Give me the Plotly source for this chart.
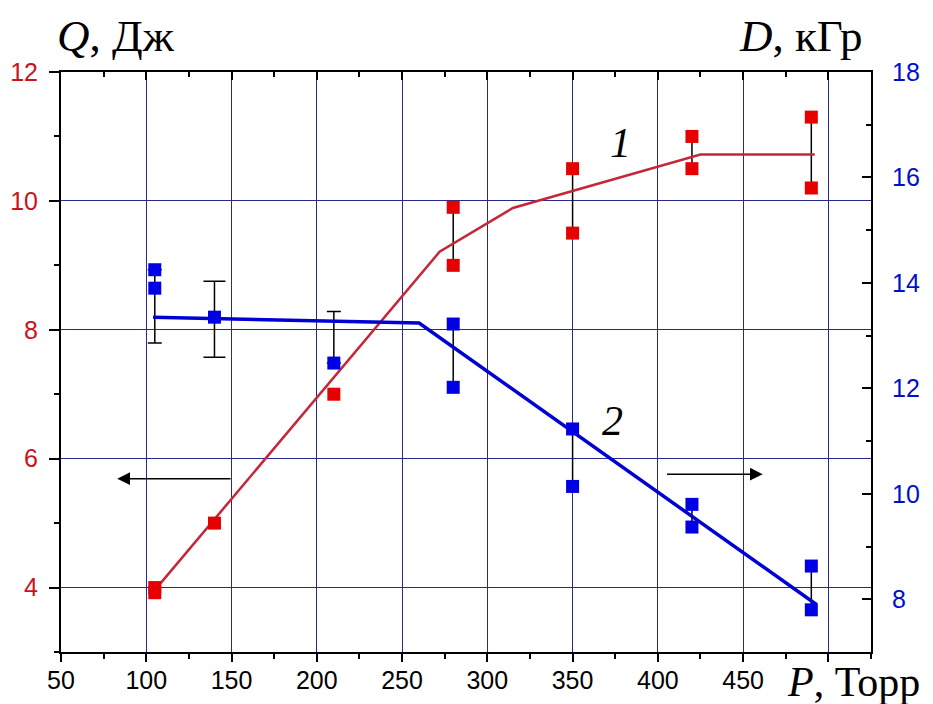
import plotly.graph_objects as go

# ---- data ----
# Q (J), left axis, red squares
q_x = [105, 105, 140, 210, 280, 280, 350, 350, 420, 420, 490, 490]
q_y = [4.0, 3.92, 5.0, 7.0, 9.9, 9.0, 10.5, 9.5, 11.0, 10.5, 11.3, 10.2]
# D (kGy), right axis, blue squares
d_x = [105, 105, 140, 210, 280, 280, 350, 350, 420, 420, 490, 490]
d_y = [14.25, 13.9, 13.35, 12.48, 13.22, 12.02, 11.23, 10.14, 9.8, 9.37, 8.63, 7.8]

# fitted curves
fit1_x = [105, 272, 315, 425, 492]
fit1_y = [3.96, 9.21, 9.89, 10.72, 10.72]
fit2_x = [104, 260, 493]
fit2_y = [13.35, 13.24, 7.9]

# spread bars (no caps)
qbar_x = [280, 350, 420, 490]
qbar_lo = [9.0, 9.5, 10.5, 10.2]
qbar_hi = [9.9, 10.5, 11.0, 11.3]
dbar_x = [280, 350, 420, 490]
dbar_lo = [12.02, 10.14, 9.37, 7.8]
dbar_hi = [13.22, 11.23, 9.8, 8.63]
# capped error bars (D)
dcap_x = [105, 210]
dcap_lo = [12.86, 12.48]
dcap_hi = [14.25, 13.46]
dcap2_x = [140]
dcap2_lo = [12.59]
dcap2_hi = [14.03]

x_ticks = [50, 100, 150, 200, 250, 300, 350, 400, 450, 500]
x_ticktext = ['50', '100', '150', '200', '250', '300', '350', '400', '450', '']

RED_M = '#e60000'
RED_L = '#c42838'
BLUE_M = '#0000e6'
BLUE_L = '#0000d2'
GRID = '#2a2a8c'

def mid(lo, hi):
    return [(a + b) / 2 for a, b in zip(lo, hi)]

def half(lo, hi):
    return [(b - a) / 2 for a, b in zip(lo, hi)]

fig = go.Figure()

def bars(x, lo, hi, axis, w):
    fig.add_trace(go.Scatter(
        x=x, y=mid(lo, hi), yaxis=axis, mode='markers',
        marker=dict(size=1, color='rgba(0,0,0,0)'),
        error_y=dict(type='data', array=half(lo, hi), symmetric=True,
                     color='black', thickness=1.5, width=w),
        showlegend=False, hoverinfo='skip'))

bars(qbar_x, qbar_lo, qbar_hi, 'y', 0)
bars(dbar_x, dbar_lo, dbar_hi, 'y2', 0)
bars(dcap_x, dcap_lo, dcap_hi, 'y2', 7)
bars(dcap2_x, dcap2_lo, dcap2_hi, 'y2', 11)

fig.add_trace(go.Scatter(x=fit2_x, y=fit2_y, yaxis='y2', mode='lines',
                         line=dict(color=BLUE_L, width=3.5), showlegend=False))
fig.add_trace(go.Scatter(x=fit1_x, y=fit1_y, yaxis='y', mode='lines',
                         line=dict(color=RED_L, width=2.5), showlegend=False))
fig.add_trace(go.Scatter(x=q_x, y=q_y, yaxis='y', mode='markers',
                         marker=dict(symbol='square', size=13, color=RED_M),
                         showlegend=False))
fig.add_trace(go.Scatter(x=d_x, y=d_y, yaxis='y2', mode='markers',
                         marker=dict(symbol='square', size=13, color=BLUE_M),
                         showlegend=False))
# dummy trace for top axis
fig.add_trace(go.Scatter(x=[None], y=[None], xaxis='x2', yaxis='y',
                         showlegend=False, hoverinfo='skip'))

tickfont = dict(family='Liberation Sans, Arial', size=25)
serif = 'Liberation Serif, Times New Roman'

fig.update_layout(
    width=925, height=696,
    margin=dict(l=53, r=62, t=64, b=52, autoexpand=False),
    paper_bgcolor='white', plot_bgcolor='white',
    xaxis=dict(range=[50, 525], tickvals=x_ticks, ticktext=x_ticktext,
               ticks='outside', ticklen=8, automargin=False,
               tickwidth=2, tickcolor='black', showline=True, linewidth=2,
               linecolor='black', showgrid=True, gridcolor=GRID, gridwidth=1,
               zeroline=False, tickfont=dict(color='black', **tickfont),
               ticklabelstandoff=-3,
               minor=dict(ticks='outside', ticklen=5, dtick=25, tick0=50,
                          tickwidth=2, tickcolor='black', showgrid=False)),
    xaxis2=dict(range=[50, 525], overlaying='x', side='top', tickvals=x_ticks,
                ticks='inside', ticklen=8, tickwidth=2, tickcolor='black',
                showline=True, linewidth=2, linecolor='black', showgrid=False,
                showticklabels=False, zeroline=False, automargin=False,
                minor=dict(ticks='inside', ticklen=5, dtick=25, tick0=50,
                           tickwidth=2, tickcolor='black', showgrid=False)),
    yaxis=dict(range=[3, 12], dtick=2, tick0=0, ticks='outside', ticklen=10,
               tickwidth=2, tickcolor='black', showline=True, linewidth=2,
               linecolor='black', showgrid=True, gridcolor=GRID, gridwidth=1,
               zeroline=False, tickfont=dict(color='#cc1020', **tickfont),
               ticklabelstandoff=6, automargin=False,
               minor=dict(ticks='outside', ticklen=5, dtick=1, tick0=0,
                          tickwidth=2, tickcolor='black', showgrid=False)),
    yaxis2=dict(range=[7, 18], dtick=2, tick0=0, overlaying='y', side='right',
                ticks='inside', ticklen=9, tickwidth=2, tickcolor='black',
                showline=True, linewidth=2, linecolor='black', showgrid=False,
                zeroline=False, tickfont=dict(color='#0010c8', **tickfont),
                ticklabelstandoff=14, automargin=False,
                minor=dict(ticks='inside', ticklen=5, dtick=1, tick0=0,
                           tickwidth=2, tickcolor='black', showgrid=False)),
)

ann = [
    dict(text='<i>Q</i>, Дж', xref='paper', yref='paper', x=-0.008, y=1.062,
         xanchor='left', yanchor='middle', showarrow=False,
         font=dict(family=serif, size=45, color='black')),
    dict(text='<i>D</i>, кГр', xref='paper', yref='paper', x=0.9136, y=1.062,
         xanchor='center', yanchor='middle', showarrow=False,
         font=dict(family=serif, size=45, color='black')),
    dict(text='<i>P</i>, Торр', xref='paper', yref='paper', x=0.894, y=-0.052,
         xanchor='left', yanchor='middle', showarrow=False,
         font=dict(family=serif, size=42, color='black')),
    dict(text='<i>1</i>', x=377.9, y=10.9, xref='x', yref='y', showarrow=False,
         font=dict(family=serif, size=42, color='black')),
    dict(text='<i>2</i>', x=373.2, y=6.58, xref='x', yref='y', showarrow=False,
         font=dict(family=serif, size=42, color='black')),
    dict(text='', x=83, y=5.69, ax=150.3, ay=5.69, xref='x', yref='y',
         axref='x', ayref='y', showarrow=True, arrowhead=2, arrowsize=1.7,
         arrowwidth=1.5, arrowcolor='black'),
    dict(text='', x=461.5, y=5.76, ax=404.5, ay=5.76, xref='x', yref='y',
         axref='x', ayref='y', showarrow=True, arrowhead=2, arrowsize=1.7,
         arrowwidth=1.5, arrowcolor='black'),
]
fig.update_layout(annotations=ann)

fig.write_html('out.html')
